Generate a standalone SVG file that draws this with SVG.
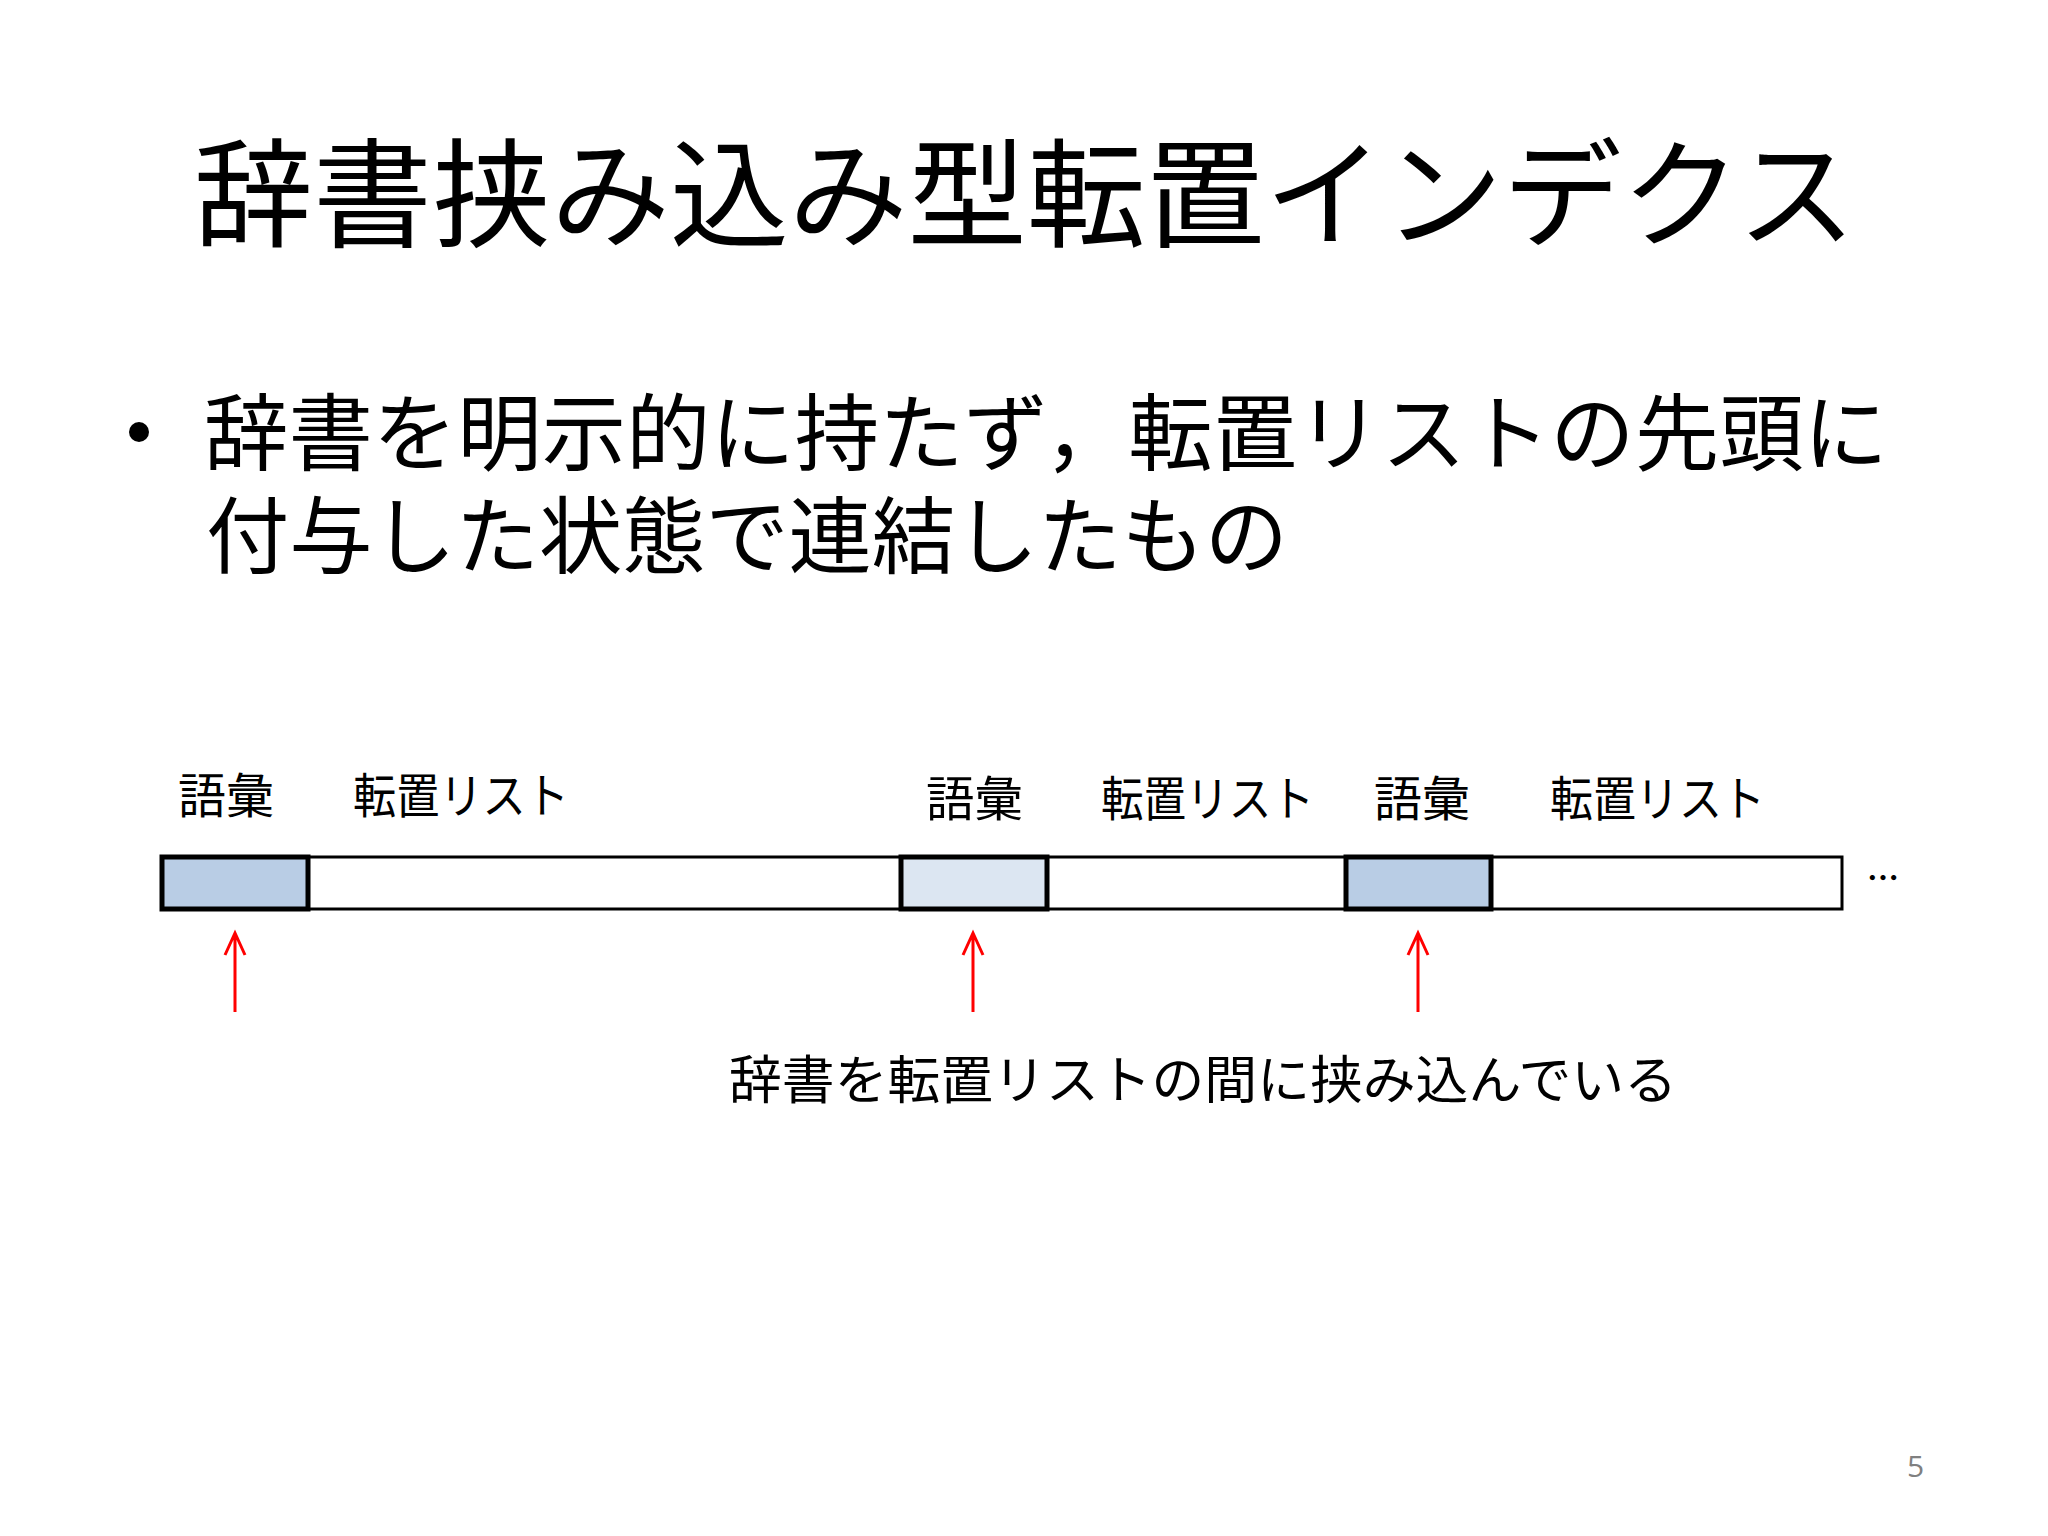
<svg xmlns="http://www.w3.org/2000/svg" width="2048" height="1536" viewBox="0 0 2048 1536">
<defs>
<style>
.jp{font-family:"Noto Sans CJK JP","Noto Sans",sans-serif;fill:#000}
.title{font-size:118px}
.body{font-size:84px}
.lbl{font-size:48px}
.note{font-size:52px}
.bar{fill:#fff;stroke:#000;stroke-width:3}
.voc{stroke:#000;stroke-width:5}
.arrow{stroke:#f00;stroke-width:3;fill:none}
</style>
</defs>
<rect width="2048" height="1536" fill="#fff"/>
<g id="title"><text class="jp title" x="194" y="238" textLength="1662" lengthAdjust="spacingAndGlyphs">辞書挟み込み型転置インデクス</text></g>
<g id="bullet">
<circle cx="139" cy="432" r="10" fill="#000"/>
<text class="jp body" x="204" y="464" textLength="1684" lengthAdjust="spacingAndGlyphs">辞書を明示的に持たず，転置リストの先頭に</text>
<text class="jp body" x="206" y="567" textLength="1082" lengthAdjust="spacingAndGlyphs">付与した状態で連結したもの</text>
</g>
<g id="labels">
<text class="jp lbl" x="178" y="813" textLength="96" lengthAdjust="spacingAndGlyphs">語彙</text>
<text class="jp lbl" x="353" y="813" textLength="216" lengthAdjust="spacingAndGlyphs">転置リスト</text>
<text class="jp lbl" x="926" y="816" textLength="97" lengthAdjust="spacingAndGlyphs">語彙</text>
<text class="jp lbl" x="1101" y="816" textLength="213" lengthAdjust="spacingAndGlyphs">転置リスト</text>
<text class="jp lbl" x="1374" y="816" textLength="96" lengthAdjust="spacingAndGlyphs">語彙</text>
<text class="jp lbl" x="1550" y="816" textLength="215" lengthAdjust="spacingAndGlyphs">転置リスト</text>
</g>
<g id="bar">
<rect class="bar" x="162" y="857" width="1680" height="52"/>
<rect id="voc1" class="voc" x="162" y="857" width="146" height="52" fill="#B9CDE5"/>
<rect id="voc2" class="voc" x="901" y="857" width="146" height="52" fill="#DCE6F2"/>
<rect id="voc3" class="voc" x="1346" y="857" width="145" height="52" fill="#B9CDE5"/>
<text class="jp" x="1867" y="890" font-size="32" font-weight="bold">…</text>
</g>
<g id="connectors">
<path class="arrow" d="M235 1012V933M225 955L235 933L245 955"/>
<path class="arrow" d="M973 1012V933M963 955L973 933L983 955"/>
<path class="arrow" d="M1418 1012V933M1408 955L1418 933L1428 955"/>
</g>
<g id="note"><text class="jp note" x="729" y="1099" textLength="948" lengthAdjust="spacingAndGlyphs">辞書を転置リストの間に挟み込んでいる</text></g>
<g id="page"><text x="1907" y="1477" font-family="Open Sans, Liberation Sans, sans-serif" font-size="30" fill="#808080">5</text></g>
</svg>
